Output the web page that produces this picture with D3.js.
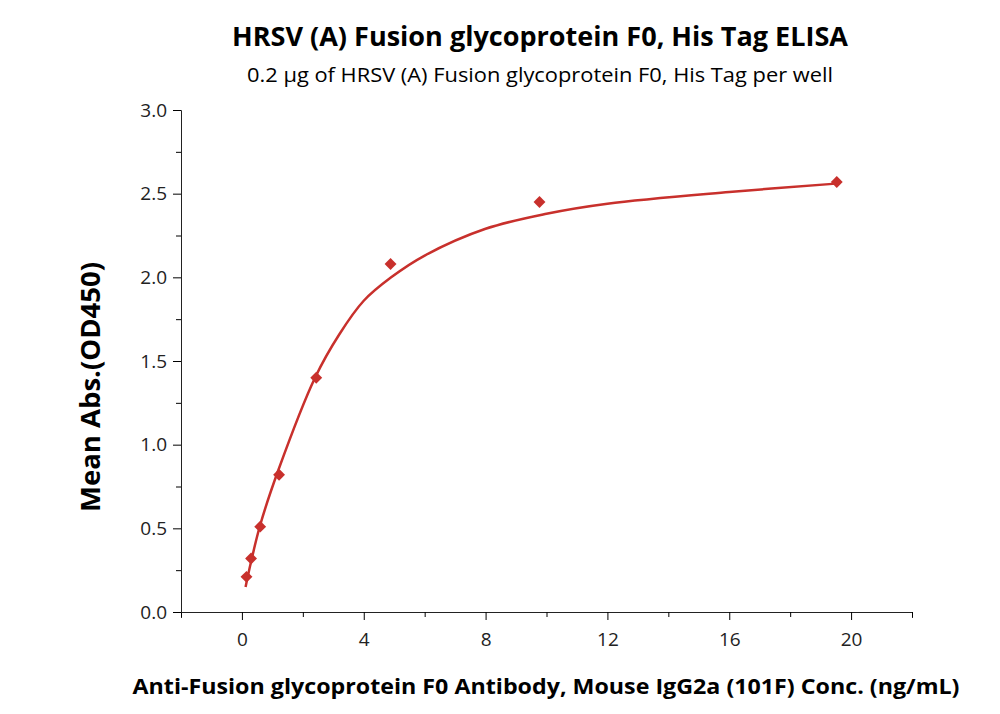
<!DOCTYPE html>
<html><head><meta charset="utf-8">
<script src="https://cdn.jsdelivr.net/npm/d3@7"></script>
<style>body{margin:0;background:#fff}text{font-family:"Open Sans","Noto Sans",sans-serif}</style>
</head><body><svg id="c" width="1000" height="714"></svg>
<script>
const concX = [0.15, 0.3, 0.6, 1.22, 2.44, 4.88, 9.77, 19.53];
const absY = [0.21, 0.32, 0.51, 0.82, 1.40, 2.08, 2.45, 2.57];
const curveX = [0.12, 0.3, 0.6, 1.2, 2.4, 3.2, 4, 4.9, 6, 8, 10, 12, 16, 19.5];
const curveY = [0.15, 0.30, 0.52, 0.85, 1.40, 1.66, 1.86, 2.00, 2.13, 2.29, 2.38, 2.44, 2.51, 2.56];
const xTicks = [0, 4, 8, 12, 16, 20];
const yTicks = [0, 0.5, 1.0, 1.5, 2.0, 2.5, 3.0];
const color = "#c8302c";

const svg = d3.select("#c");
const x = d3.scaleLinear().domain([-2, 22]).range([181, 912]);
const y = d3.scaleLinear().domain([0, 3]).range([612, 110]);

const gx = svg.append("g").attr("transform","translate(0,612)")
  .call(d3.axisBottom(x).tickValues(d3.range(-2, 23, 2)).tickSize(6).tickFormat(d => xTicks.includes(d) ? d : ""));
const gy = svg.append("g").attr("transform","translate(181,0)")
  .call(d3.axisLeft(y).tickValues(d3.range(0, 3.01, 0.25)).tickSize(6).tickFormat(d => yTicks.some(t=>Math.abs(t-d)<1e-6) ? d.toFixed(1) : ""));
gy.selectAll(".tick line").attr("x2", d => Math.abs(d*2-Math.round(d*2))<1e-6 ? -8 : -5);
gx.selectAll(".tick line").attr("y2", d => xTicks.includes(d) ? 8 : 5);
[gx, gy].forEach(g => { g.selectAll("text").attr("font-size", 19).attr("fill","#222"); g.select(".domain").attr("stroke","#222"); });
gx.selectAll("text").attr("dy","1.3em");
gy.selectAll("text").attr("x", -14);

svg.append("path").datum(curveX.map((v,i)=>[v,curveY[i]]))
  .attr("fill","none").attr("stroke",color).attr("stroke-width",2.5)
  .attr("d", d3.line().x(d=>x(d[0])).y(d=>y(d[1])).curve(d3.curveCatmullRom));

svg.selectAll(".pt").data(concX).enter().append("path")
  .attr("d", d3.symbol(d3.symbolDiamond2 || d3.symbolDiamond, 90))
  .attr("transform",(d,i)=>`translate(${x(d)},${y(absY[i])})`)
  .attr("fill",color);

svg.append("text").attr("x",540).attr("y",46).attr("text-anchor","middle").attr("font-size",26.5).attr("font-weight","bold")
  .attr("textLength",616).attr("lengthAdjust","spacingAndGlyphs")
  .text("HRSV (A) Fusion glycoprotein F0, His Tag ELISA");
svg.append("text").attr("x",540).attr("y",82).attr("text-anchor","middle").attr("font-size",20)
  .attr("textLength",586).attr("lengthAdjust","spacingAndGlyphs")
  .text("0.2 μg of HRSV (A) Fusion glycoprotein F0, His Tag per well");
svg.append("text").attr("x",546).attr("y",694).attr("text-anchor","middle").attr("font-size",21).attr("font-weight","bold")
  .attr("textLength",827).attr("lengthAdjust","spacingAndGlyphs")
  .text("Anti-Fusion glycoprotein F0 Antibody, Mouse IgG2a (101F) Conc. (ng/mL)");
svg.append("text").attr("transform","translate(100,387) rotate(-90)").attr("text-anchor","middle").attr("font-size",26).attr("font-weight","bold")
  .attr("textLength",250).attr("lengthAdjust","spacingAndGlyphs")
  .text("Mean Abs.(OD450)");
</script></body></html>
